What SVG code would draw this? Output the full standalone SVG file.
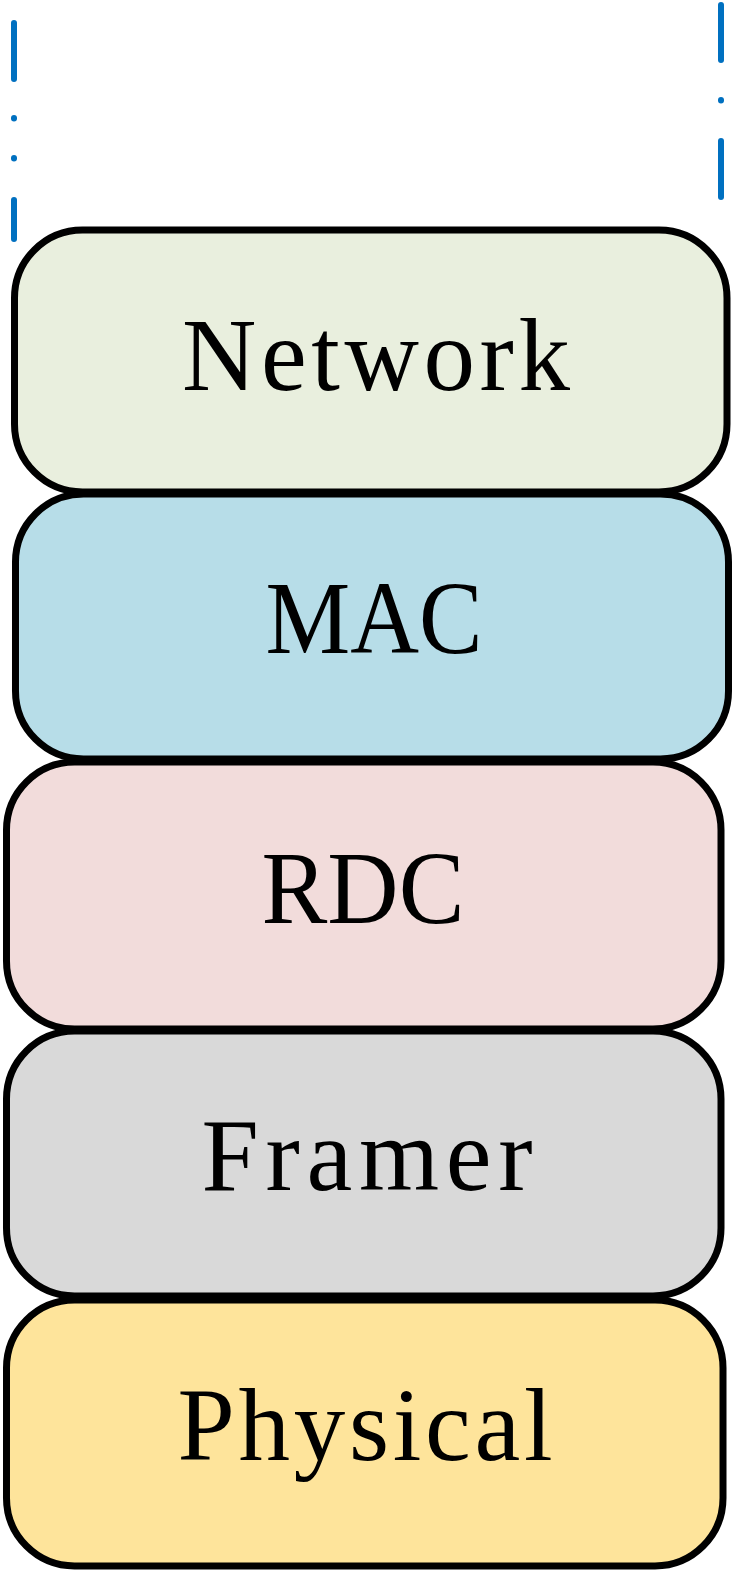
<svg xmlns="http://www.w3.org/2000/svg" width="738" height="1572" viewBox="0 0 738 1572">
<style>
.box{stroke:#000;stroke-width:7}
.lbl{font-family:"Liberation Serif","Times New Roman",serif;font-size:103px;fill:#000;text-anchor:middle}
.dash{stroke:#0070C0;stroke-width:6;stroke-linecap:round;fill:none}
</style>
<rect width="738" height="1572" fill="#fff"/>
<g id="connectors">
<line class="dash" x1="14" y1="23" x2="14" y2="79"/>
<line class="dash" x1="14" y1="118" x2="14" y2="118.5"/>
<line class="dash" x1="14" y1="158" x2="14" y2="158.5"/>
<line class="dash" x1="14" y1="200" x2="14" y2="239"/>
<line class="dash" x1="721" y1="5" x2="721" y2="60"/>
<line class="dash" x1="721" y1="100" x2="721" y2="100.5"/>
<line class="dash" x1="721" y1="141" x2="721" y2="197"/>
</g>
<g id="network">
<rect class="box" x="14.5" y="230" width="712.5" height="262" rx="68" fill="#E9EFDE"/>
<text class="lbl" x="376" y="390" textLength="388" lengthAdjust="spacing">Network</text>
</g>
<g id="mac">
<rect class="box" x="15.5" y="494" width="713" height="265" rx="68" fill="#B7DDE8"/>
<text class="lbl" x="374" y="653" textLength="217" lengthAdjust="spacingAndGlyphs">MAC</text>
</g>
<g id="rdc">
<rect class="box" x="6.5" y="762" width="714.5" height="267" rx="68" fill="#F2DCDB"/>
<text class="lbl" x="363" y="923" textLength="203" lengthAdjust="spacingAndGlyphs">RDC</text>
</g>
<g id="framer">
<rect class="box" x="6.5" y="1031" width="714.5" height="265" rx="68" fill="#D9D9D9"/>
<text class="lbl" x="367" y="1190" textLength="331" lengthAdjust="spacing">Framer</text>
</g>
<g id="physical">
<rect class="box" x="6.5" y="1300" width="716.5" height="266" rx="68" fill="#FEE49B"/>
<text class="lbl" x="365" y="1460" textLength="375" lengthAdjust="spacing">Physical</text>
</g>
</svg>
